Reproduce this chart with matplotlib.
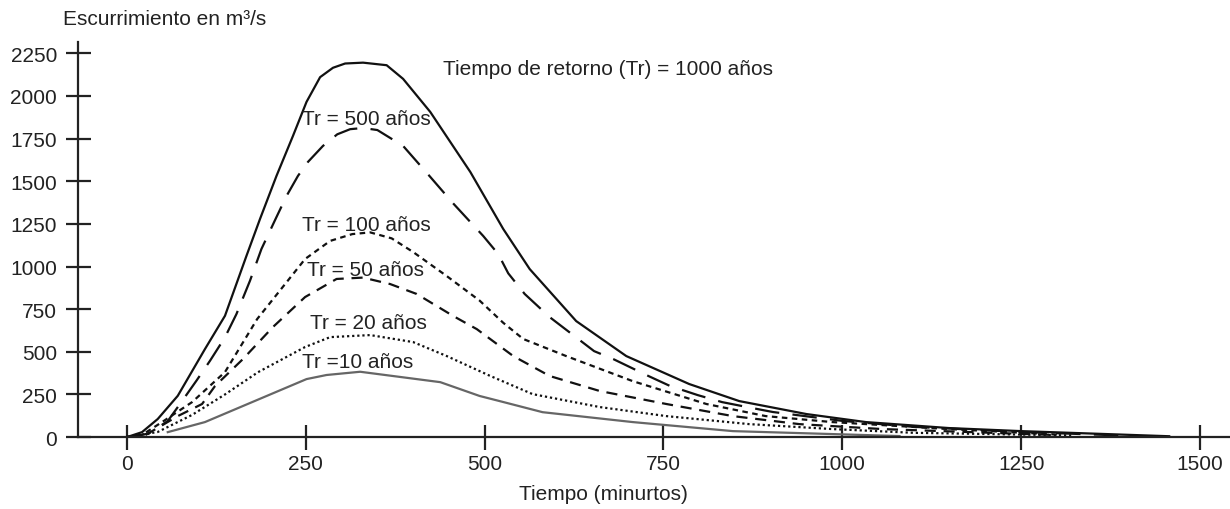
"""
Hidrogramas de escurrimiento para distintos tiempos de retorno.
"""
import matplotlib
matplotlib.use("Agg")
import matplotlib.pyplot as plt

plt.rcParams["font.family"] = ["Liberation Sans Narrow", "Liberation Sans", "DejaVu Sans"]

# --- DATOS (tiempo en minutos, escurrimiento en m3/s) --- #
t_1000 = [0, 21, 43, 71, 109, 137, 167, 186, 209, 232, 251, 270, 288, 305, 330, 363, 386, 424,
          480, 526, 563, 628, 698, 786, 856, 950, 1033, 1149, 1250, 1457]
q_1000 = [0, 29, 106, 242, 516, 711, 1062, 1279, 1531, 1765, 1965, 2110, 2165, 2190, 2195, 2180, 2100, 1906,
          1554, 1220, 985, 680, 475, 311, 211, 135, 88, 53, 35, 5]

t_500 = [0, 30, 57, 77, 97, 116, 137, 153, 172, 188, 209, 223, 239, 253, 274, 294, 312, 330,
         350, 386, 423, 456, 498, 519, 533, 556, 591, 653, 680, 729, 759, 798, 832, 867, 903,
         1000, 1100, 1250, 1400]
q_500 = [0, 20, 94, 211, 330, 447, 585, 721, 917, 1103, 1290, 1413, 1531, 1613, 1707, 1775, 1805, 1812,
         1800, 1707, 1530, 1370, 1179, 1073, 960, 839, 703, 504, 457, 358, 300, 246, 205, 176, 147,
         95, 60, 30, 8]

t_100 = [0, 20, 49, 91, 137, 182, 249, 284, 315, 340, 370, 400, 447, 493, 526, 554, 614, 707,
         810, 893, 986, 1149, 1300]
q_100 = [0, 10, 88, 205, 381, 692, 1044, 1150, 1190, 1200, 1165, 1085, 944, 800, 670, 575, 475, 328,
         194, 123, 88, 47, 15]

t_50 = [0, 25, 71, 105, 123, 162, 204, 249, 293, 330, 368, 405, 456, 489, 540, 591, 661,
        754, 847, 940, 1056, 1300]
q_50 = [0, 10, 123, 194, 299, 457, 645, 821, 927, 935, 897, 839, 710, 633, 475, 358, 270,
        194, 123, 76, 47, 12]

t_20 = [0, 43, 91, 137, 183, 249, 284, 340, 400, 447, 507, 567, 661, 754, 870, 986, 1100, 1320]
q_20 = [0, 30, 130, 250, 380, 528, 586, 598, 557, 475, 360, 252, 176, 123, 76, 47, 25, 10]

t_10 = [57, 109, 251, 279, 326, 438, 493, 521, 581, 707, 847, 1080]
q_10 = [29, 88, 340, 364, 383, 322, 241, 211, 146, 88, 35, 6]

x_ticks = [0, 250, 500, 750, 1000, 1250, 1500]
y_ticks = [0, 250, 500, 750, 1000, 1250, 1500, 1750, 2000, 2250]

# --- FIGURA --- #
fig = plt.figure(figsize=(12.3, 5.1), dpi=100)
ax = fig.add_axes([0.0634, 0.141, 0.9366, 0.775])

ax.plot(t_1000, q_1000, color="#111111", linewidth=1.6)
ax.plot(t_500, q_500, color="#111111", linewidth=1.6, linestyle=(0, (11, 6)))
ax.plot(t_100, q_100, color="#111111", linewidth=1.6, linestyle=(0, (2.5, 2)))
ax.plot(t_50, q_50, color="#111111", linewidth=1.6, linestyle=(0, (5, 3.5)))
ax.plot(t_20, q_20, color="#111111", linewidth=1.6, linestyle=(0, (1, 1.3)))
ax.plot(t_10, q_10, color="#666666", linewidth=1.6)

# --- ETIQUETAS DE LAS CURVAS --- #
fs = 15
ax.text(442, 2158, "Tiempo de retorno (Tr) = 1000 años", fontsize=fs, va="center", color="#222222")
ax.text(335, 1865, "Tr = 500 años", fontsize=fs, ha="center", va="center", color="#222222")
ax.text(335, 1249, "Tr = 100 años", fontsize=fs, ha="center", va="center", color="#222222")
ax.text(333, 985, "Tr = 50 años", fontsize=fs, ha="center", va="center", color="#222222")
ax.text(337, 674, "Tr = 20 años", fontsize=fs, ha="center", va="center", color="#222222")
ax.text(323, 446, "Tr =10 años", fontsize=fs, ha="center", va="center", color="#222222")

# --- EJES --- #
ax.set_xlim(-68.5, 1542)
ax.set_ylim(0, 2317)
ax.set_xticks(x_ticks)
ax.set_yticks(y_ticks)
ax.spines["top"].set_visible(False)
ax.spines["right"].set_visible(False)
for side in ["left", "bottom"]:
    ax.spines[side].set_linewidth(1.6)
    ax.spines[side].set_color("#222222")
ax.tick_params(axis="both", direction="inout", length=18, width=1.6, color="#222222",
               labelsize=fs, labelcolor="#222222")
ax.tick_params(axis="y", pad=6)
ax.tick_params(axis="x", pad=3)

fig.text(0.051, 0.961, "Escurrimiento en m³/s", fontsize=fs, va="center", color="#222222")
fig.text(0.491, 0.031, "Tiempo (minurtos)", fontsize=fs, ha="center", va="center", color="#222222")

plt.savefig("out.png")
